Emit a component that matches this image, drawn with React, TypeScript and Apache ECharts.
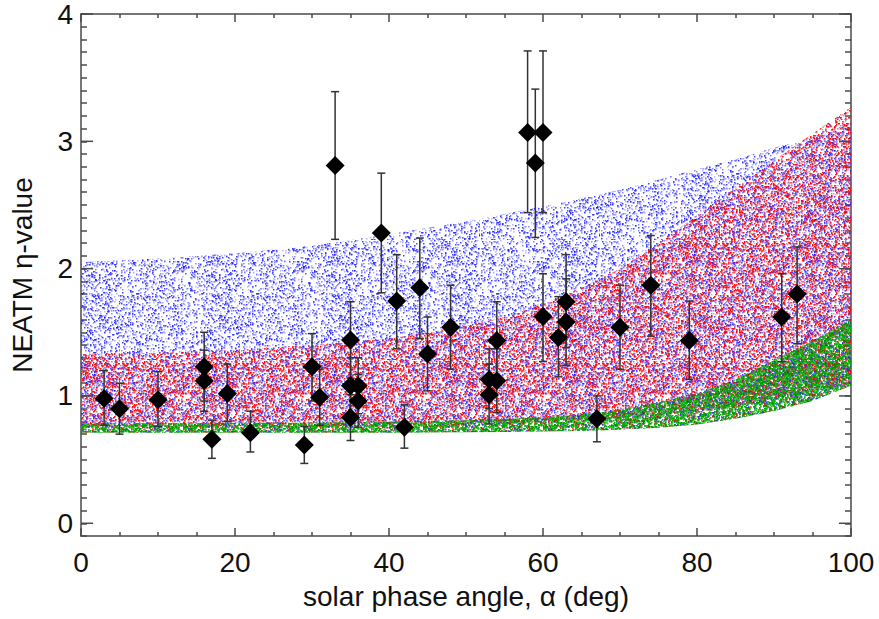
import React, { useEffect, useRef } from "react";
import * as echarts from "echarts";

// ---- measured objects (diamonds + error bars) ----
const pointX = [3, 5, 10, 16, 16, 17, 19, 22, 29, 30, 31, 33, 35, 35, 35, 36, 36, 39, 41, 42, 44, 45, 48, 53, 53, 54, 54, 58, 59, 60, 60, 62, 63, 63, 67, 70, 74, 79, 91, 93];
const pointY = [0.98, 0.9, 0.97, 1.23, 1.12, 0.66, 1.02, 0.71, 0.615, 1.23, 0.99, 2.81, 1.44, 1.08, 0.83, 1.08, 0.96, 2.28, 1.745, 0.755, 1.85, 1.33, 1.54, 1.13, 1.01, 1.435, 1.12, 3.07, 2.83, 3.07, 1.625, 1.46, 1.74, 1.58, 0.82, 1.54, 1.87, 1.435, 1.62, 1.8];
const errLow = [0.77, 0.7, 0.76, 0.96, 0.88, 0.51, 0.8, 0.56, 0.47, 0.96, 0.77, 2.23, 1.14, 0.86, 0.65, 0.86, 0.755, 1.81, 1.37, 0.59, 1.45, 1.04, 1.21, 0.9, 0.78, 1.13, 0.87, 2.44, 2.245, 2.44, 1.27, 1.15, 1.38, 1.24, 0.64, 1.21, 1.47, 1.13, 1.27, 1.41];
const errHigh = [1.2, 1.1, 1.19, 1.5, 1.36, 0.81, 1.25, 0.88, 0.76, 1.49, 1.21, 3.39, 1.74, 1.3, 1.01, 1.3, 1.17, 2.75, 2.11, 0.93, 2.24, 1.62, 1.87, 1.37, 1.25, 1.74, 1.37, 3.71, 3.41, 3.71, 1.96, 1.78, 2.11, 1.92, 1.0, 1.87, 2.26, 1.745, 1.96, 2.17];

// ---- model clouds: lower / upper envelope ----
const bandX = [0, 10, 20, 30, 40, 50, 55, 60, 65, 70, 75, 80, 85, 90, 95, 100];
const blueLow = [0.76, 0.76, 0.76, 0.76, 0.77, 0.78, 0.79, 0.8, 0.815, 0.83, 0.85, 0.87, 0.91, 0.95, 1.01, 1.08];
const blueHigh = [2.05, 2.08, 2.12, 2.18, 2.27, 2.37, 2.43, 2.49, 2.55, 2.62, 2.7, 2.78, 2.86, 2.95, 3.03, 3.12];
const redLow = [0.76, 0.76, 0.76, 0.76, 0.76, 0.77, 0.78, 0.79, 0.8, 0.82, 0.85, 0.88, 0.92, 0.98, 1.04, 1.1];
const redHigh = [1.33, 1.34, 1.36, 1.4, 1.45, 1.55, 1.62, 1.72, 1.85, 2.0, 2.2, 2.42, 2.63, 2.85, 3.06, 3.27];
const greenLow = [0.71, 0.71, 0.71, 0.71, 0.71, 0.715, 0.717, 0.72, 0.725, 0.735, 0.75, 0.775, 0.82, 0.88, 0.96, 1.08];
const greenHigh = [0.785, 0.785, 0.79, 0.79, 0.8, 0.81, 0.82, 0.83, 0.855, 0.89, 0.95, 1.02, 1.13, 1.28, 1.43, 1.6];

const yMajorTicks = [0, 1, 2, 3, 4];

const FONT = "'Liberation Sans', Arial, Helvetica, sans-serif";
const AXIS_COLOR = "#4a4a4a";

function hash(n: number) {
  let h = Math.imul(n ^ 0x9e3779b9, 0x85ebca6b);
  h ^= h >>> 13;
  h = Math.imul(h, 0xc2b2ae35);
  h ^= h >>> 16;
  return h >>> 0;
}

// speckle texture (style only)
function makeTexture(colors: string[], count: number, size: number, dot: number, seed: number) {
  const c = document.createElement("canvas");
  c.width = size;
  c.height = size;
  const ctx = c.getContext("2d")!;
  for (let i = 0; i < count; i++) {
    const hx = hash(seed * 100003 + i * 3);
    const hy = hash(seed * 100003 + i * 3 + 1);
    const hc = hash(seed * 100003 + i * 3 + 2);
    ctx.fillStyle = colors[hc % colors.length];
    ctx.fillRect(hx % size, hy % size, dot, dot);
  }
  return c;
}

function bandSeries(name: string, lo: number[], hi: number[], fill: any, z: number) {
  return {
    type: "custom",
    name,
    z,
    silent: true,
    data: bandX.map((x, i) => [x, lo[i], hi[i]]),
    encode: { x: 0, y: [1, 2] },
    renderItem: (params: any, api: any) => {
      if (params.dataIndex !== 0) return null;
      const pts: number[][] = [];
      for (let i = 0; i < bandX.length; i++) pts.push(api.coord([bandX[i], hi[i]]));
      for (let i = bandX.length - 1; i >= 0; i--) pts.push(api.coord([bandX[i], lo[i]]));
      return { type: "polygon", shape: { points: pts }, style: { fill } };
    },
  };
}

export default function App() {
  const ref = useRef<HTMLDivElement>(null);
  useEffect(() => {
    if (!ref.current) return;
    const chart = echarts.init(ref.current, undefined, { renderer: "svg" });

    const S = 120;
    const blueTex = makeTexture(
      ["rgba(20,20,255,0.8)", "rgba(60,60,255,0.6)", "rgba(110,110,255,0.5)"],
      2500, S, 1.5, 1
    );
    const redTex = makeTexture(
      ["rgba(255,0,0,0.9)", "rgba(255,30,30,0.7)", "rgba(255,80,80,0.55)", "rgba(255,0,0,0.9)", "rgba(50,50,255,0.55)"],
      3600, S, 1.5, 2
    );
    const greenTex = makeTexture(
      ["rgba(0,170,0,0.95)", "rgba(20,190,20,0.9)", "rgba(0,140,0,0.9)", "rgba(40,200,40,0.8)", "rgba(0,160,0,0.95)", "rgba(0,180,0,0.9)", "rgba(230,0,0,0.7)", "rgba(40,40,230,0.7)"],
      8000, S, 1.6, 3
    );
    const pat = (img: HTMLCanvasElement) => ({ image: img, repeat: "repeat", imageWidth: S, imageHeight: S });

    const xCommon = {
      type: "value",
      min: 0,
      max: 100,
      interval: 20,
      axisLine: { show: true, onZero: false, lineStyle: { color: AXIS_COLOR, width: 1.5 } },
      axisTick: { show: true, inside: true, length: 8, lineStyle: { color: AXIS_COLOR, width: 1.5 } },
      minorTick: { show: true, splitNumber: 4, length: 4, lineStyle: { color: AXIS_COLOR, width: 1.5 } },
      splitLine: { show: false },
    };
    const yCommon = {
      type: "value",
      min: -0.1,
      max: 4,
      interval: 0.1,
      axisLine: { show: true, onZero: false, lineStyle: { color: AXIS_COLOR, width: 1.5 } },
      axisTick: { show: true, inside: true, length: 6, lineStyle: { color: AXIS_COLOR, width: 1.5 } },
      splitLine: { show: false },
    };

    chart.setOption({
      animation: false,
      backgroundColor: "#ffffff",
      grid: { left: 81, right: 28, top: 6, bottom: 83 },
      xAxis: [
        {
          ...xCommon,
          position: "bottom",
          name: "solar phase angle, \u03b1 (deg)",
          nameLocation: "middle",
          nameGap: 46,
          nameTextStyle: { fontFamily: FONT, fontSize: 28, color: "#111" },
          axisLabel: { show: true, margin: 12, fontFamily: FONT, fontSize: 28, color: "#111" },
        },
        { ...xCommon, position: "top", axisLabel: { show: false } },
      ],
      yAxis: [
        {
          ...yCommon,
          position: "left",
          name: "NEATM \u03b7-value",
          nameLocation: "middle",
          nameGap: 45,
          nameTextStyle: { fontFamily: FONT, fontSize: 28, color: "#111" },
          axisLabel: {
            show: true,
            margin: 8,
            padding: [8, 0, 0, 0],
            fontFamily: FONT,
            fontSize: 28,
            color: "#111",
            formatter: (v: number) => (Math.abs(v - Math.round(v)) < 1e-6 ? String(Math.round(v)) : ""),
          },
        },
        { ...yCommon, position: "right", axisLabel: { show: false } },
      ],
      series: [
        bandSeries("blue", blueLow, blueHigh, pat(blueTex), 1),
        bandSeries("red", redLow, redHigh, pat(redTex), 2),
        bandSeries("green", greenLow, greenHigh, pat(greenTex), 3),
        {
          type: "custom",
          name: "majorTicks",
          z: 4,
          silent: true,
          data: yMajorTicks.map((v) => [0, v]),
          encode: { x: 0, y: 1 },
          renderItem: (params: any, api: any) => {
            const v = api.value(1);
            const l = api.coord([0, v]);
            const r = api.coord([100, v]);
            const st = { stroke: AXIS_COLOR, lineWidth: 1.5 };
            return {
              type: "group",
              children: [
                { type: "line", shape: { x1: l[0], y1: l[1], x2: l[0] + 12, y2: l[1] }, style: st },
                { type: "line", shape: { x1: r[0], y1: r[1], x2: r[0] - 12, y2: r[1] }, style: st },
              ],
            };
          },
        },
        {
          type: "custom",
          name: "errors",
          z: 5,
          silent: true,
          data: pointX.map((x, i) => [x, errLow[i], errHigh[i]]),
          encode: { x: 0, y: [1, 2] },
          renderItem: (params: any, api: any) => {
            const x = api.value(0);
            const lo = api.coord([x, api.value(1)]);
            const hi = api.coord([x, api.value(2)]);
            const st = { stroke: "#333333", lineWidth: 1.5 };
            const cw = 4;
            return {
              type: "group",
              children: [
                { type: "line", shape: { x1: lo[0], y1: lo[1], x2: hi[0], y2: hi[1] }, style: st },
                { type: "line", shape: { x1: lo[0] - cw, y1: lo[1], x2: lo[0] + cw, y2: lo[1] }, style: st },
                { type: "line", shape: { x1: hi[0] - cw, y1: hi[1], x2: hi[0] + cw, y2: hi[1] }, style: st },
              ],
            };
          },
        },
        {
          type: "scatter",
          name: "objects",
          z: 6,
          symbol: "diamond",
          symbolSize: 19,
          itemStyle: { color: "#000000", opacity: 1 },
          data: pointX.map((x, i) => [x, pointY[i]]),
        },
      ],
    });
    return () => chart.dispose();
  }, []);
  return (
    <div
      ref={ref}
      style={{ position: "fixed", left: 0, top: 0, width: 879, height: 619, background: "#fff" }}
    />
  );
}
